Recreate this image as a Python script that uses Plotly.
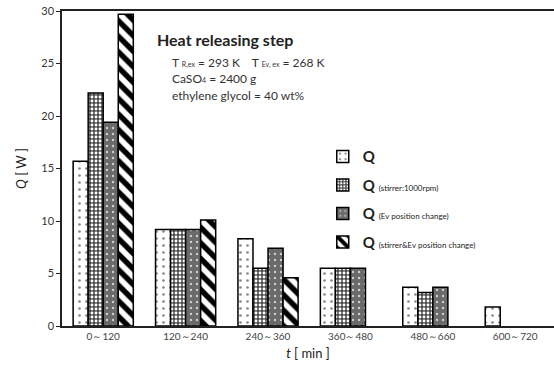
import plotly.graph_objects as go

categories = ["0～120", "120～240", "240～360", "360～480", "480～660", "600～720"]
q_base = [15.7, 9.2, 8.3, 5.5, 3.7, 1.8]
q_stirrer = [22.2, 9.2, 5.5, 5.5, 3.2, None]
q_ev = [19.4, 9.2, 7.4, 5.5, 3.7, None]
q_both = [29.7, 10.1, 4.6, None, None, None]
series_names = [
    "<b>Q</b>",
    "<b>Q</b> <span style='font-size:8px'>(stirrer:1000rpm)</span>",
    "<b>Q</b> <span style='font-size:8px'>(Ev position change)</span>",
    "<b>Q</b> <span style='font-size:8px'>(stirrer&amp;Ev position change)</span>",
]
y_ticks = [0, 5, 10, 15, 20, 25, 30]

FONT = "Lato, Open Sans, sans-serif"

patterns = [
    dict(shape=".", fgcolor="#888888", bgcolor="white", size=7, solidity=0.12, fgopacity=1),
    dict(shape=".", fgcolor="white", bgcolor="#4a4a4a", size=4, solidity=0.4, fgopacity=1),
    dict(shape=".", fgcolor="#cfcfcf", bgcolor="#6a6a6a", size=6, solidity=0.12, fgopacity=1),
    dict(shape="\\", fgcolor="black", bgcolor="white", size=11, solidity=0.5, fgopacity=1),
]

fig = go.Figure()
for i, (vals, name) in enumerate(zip([q_base, q_stirrer, q_ev, q_both], series_names)):
    fig.add_trace(go.Bar(
        x=categories, y=vals, name=name, legendgroup=f"g{i}",
        marker=dict(color=patterns[i]["bgcolor"], pattern=patterns[i],
                    line=dict(color="black", width=1.5)),
    ))

fig.update_layout(
    width=554, height=374,
    margin=dict(l=62, r=0, t=11, b=48),
    paper_bgcolor="white", plot_bgcolor="white",
    barmode="group", bargap=0.27, bargroupgap=0,
    font=dict(family=FONT, color="#333333"),
    showlegend=True,
    legend=dict(x=0.53, y=0.59, xanchor="left", yanchor="top",
                bgcolor="rgba(0,0,0,0)", font=dict(size=15, color="#222222"),
                tracegroupgap=6, itemwidth=30),
    xaxis=dict(range=[-0.5, 5.47], showline=True, linecolor="#222222", linewidth=1.5,
               mirror=True, ticks="", tickfont=dict(size=10, color="#444444"),
               title=dict(text="<i>t</i> [ min ]", font=dict(size=13, color="#222222"), standoff=8)),
    yaxis=dict(range=[0, 30], tickvals=y_ticks, showline=True, linecolor="#222222", linewidth=1.5,
               ticks="outside", ticklen=4, tickcolor="#222222", showgrid=False, zeroline=False,
               tickfont=dict(size=11, color="#333333"),
               title=dict(text="<i>Q</i> [ W ]", font=dict(size=13, color="#222222"), standoff=12)),
)

fig.add_annotation(x=0.19, y=0.908, xref="paper", yref="paper", xanchor="left", yanchor="middle",
                   text="<b>Heat releasing step</b>", showarrow=False,
                   font=dict(size=16, color="#222222", family=FONT))
fig.add_annotation(x=0.22, y=0.838, xref="paper", yref="paper", xanchor="left", yanchor="middle",
                   text="T <span style='font-size:7px'>R,ex</span> = 293 K&nbsp;&nbsp;&nbsp;&nbsp;T <span style='font-size:7px'>Ev, ex</span> = 268 K",
                   showarrow=False, font=dict(size=12, color="#333333", family=FONT))
fig.add_annotation(x=0.22, y=0.787, xref="paper", yref="paper", xanchor="left", yanchor="middle",
                   text="CaSO<span style='font-size:7px'>4</span> = 2400 g",
                   showarrow=False, font=dict(size=12, color="#333333", family=FONT))
fig.add_annotation(x=0.22, y=0.733, xref="paper", yref="paper", xanchor="left", yanchor="middle",
                   text="ethylene glycol = 40 wt%",
                   showarrow=False, font=dict(size=12, color="#333333", family=FONT))

fig.write_html("out.html")
